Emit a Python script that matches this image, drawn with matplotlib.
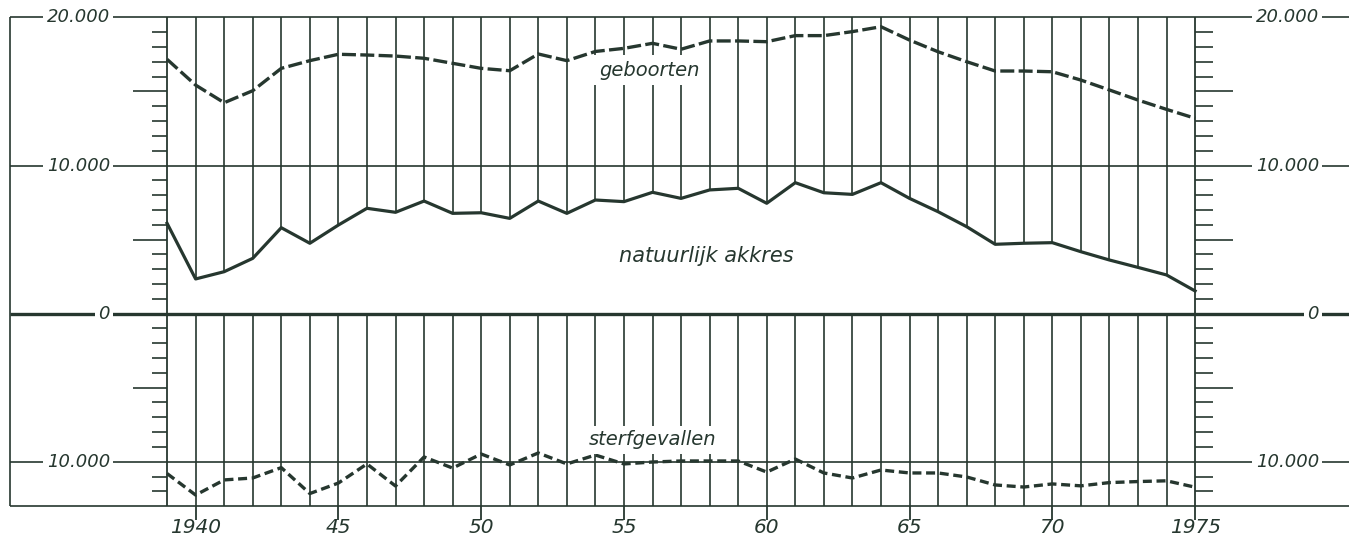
import numpy as np
import matplotlib.pyplot as plt

# jaren 1939 - 1975
years = np.arange(1939, 1976)

geboorten = [17170, 15430, 14240, 15050, 16560, 17080, 17510, 17460, 17390, 17240,
             16900, 16560, 16400, 17530, 17080, 17700, 17910, 18250, 17850, 18410,
             18410, 18360, 18770, 18770, 19040, 19370, 18470, 17680, 17010, 16380,
             16380, 16330, 15770, 15100, 14420, 13790, 13190]

akkres = [6100, 2340, 2830, 3730, 5800, 4750, 5980, 7110, 6840, 7600,
          6770, 6810, 6430, 7600, 6770, 7670, 7560, 8190, 7780, 8350,
          8460, 7450, 8840, 8160, 8050, 8840, 7780, 6880, 5870, 4680,
          4750, 4790, 4180, 3620, 3120, 2610, 1530]

sterfgevallen = [-10800, -12250, -11230, -11100, -10400, -12150, -11440, -10150, -11640, -9680,
                 -10430, -9480, -10220, -9410, -10150, -9550, -10150, -10020, -9950, -9950,
                 -9950, -10700, -9820, -10760, -11100, -10560, -10760, -10760, -11030, -11570,
                 -11710, -11500, -11630, -11410, -11340, -11290, -11720]

year_ticks = [1940, 1945, 1950, 1955, 1960, 1965, 1970, 1975]
year_labels = ['1940', '45', '50', '55', '60', '65', '70', '1975']
y_values = [20000, 10000, 0, -10000]
y_labels = ['20.000', '10.000', '0', '10.000']

ink = '#26372f'
plt.rcParams['font.family'] = 'DejaVu Sans'

fig = plt.figure(figsize=(13.49, 5.47), dpi=100)
ax = fig.add_axes([0, 0, 1, 1])
x0, x1 = 1933.15, 1980.39
ax.set_xlim(x0, x1)
ax.set_ylim(-15759, 21175)
ax.axis('off')

bottom = -13000
left_edge = 1933.5
first, last = years[0], years[-1]
grid_lw = 1.2

# verticale lijnen: boven tussen 20.000 en het akkres, onder vanaf 0
ax.vlines(years[1:-1], akkres[1:-1], 20000, color=ink, lw=grid_lw)
ax.vlines(years[1:-1], bottom, 0, color=ink, lw=grid_lw)
ax.vlines([first, last], bottom, 20000, color=ink, lw=1.3)
ax.vlines(left_edge, bottom, 20000, color=ink, lw=grid_lw)

# horizontale lijnen
ax.hlines([20000, 10000, -10000, bottom], left_edge, x1, color=ink, lw=grid_lw)
ax.hlines(0, left_edge, x1, color=ink, lw=2.4)

# schaalstreepjes links en rechts
for v in range(-12000, 20000, 1000):
    if v % 10000 == 0:
        continue
    major = v % 5000 == 0
    ax.hlines(v, first - (1.19 if major else 0.53), first, color=ink, lw=grid_lw)
    ax.hlines(v, last, last + (1.33 if major else 0.63), color=ink, lw=grid_lw)

# jaartallen
ax.vlines(year_ticks, bottom - 940, bottom, color=ink, lw=1.3)
for yr, lab in zip(year_ticks, year_labels):
    ax.text(yr, -14420, lab, ha='center', va='center', fontsize=14.5,
            style='italic', color=ink)

# waarden op de y-as
box = dict(fc='white', ec='none', pad=2.5)
for v, lab in zip(y_values, y_labels):
    ax.text(1937.0, v, lab, ha='right', va='center', fontsize=13, style='italic',
            color=ink, bbox=box, zorder=5)
    ax.text(1979.34, v, lab, ha='right', va='center', fontsize=13, style='italic',
            color=ink, bbox=box, zorder=5)

# reeksen
ax.plot(years, geboorten, color=ink, lw=2.4, dashes=(4.2, 1.3), zorder=4)
ax.plot(years, akkres, color=ink, lw=2.3, zorder=4)
ax.plot(years, sterfgevallen, color=ink, lw=2.4, dashes=(2.7, 1.4), zorder=4)

ax.text(1955.9, 16440, 'geboorten', ha='center', va='center', fontsize=14,
        style='italic', color=ink, bbox=dict(fc='white', ec='none', pad=4), zorder=6)
ax.text(1957.9, 3890, 'natuurlijk akkres', ha='center', va='center', fontsize=15,
        style='italic', color=ink, zorder=6)
ax.text(1956.0, -8530, 'sterfgevallen', ha='center', va='center', fontsize=14,
        style='italic', color=ink, bbox=dict(fc='white', ec='none', pad=3), zorder=6)

fig.savefig('out.png', dpi=100, facecolor='white')
